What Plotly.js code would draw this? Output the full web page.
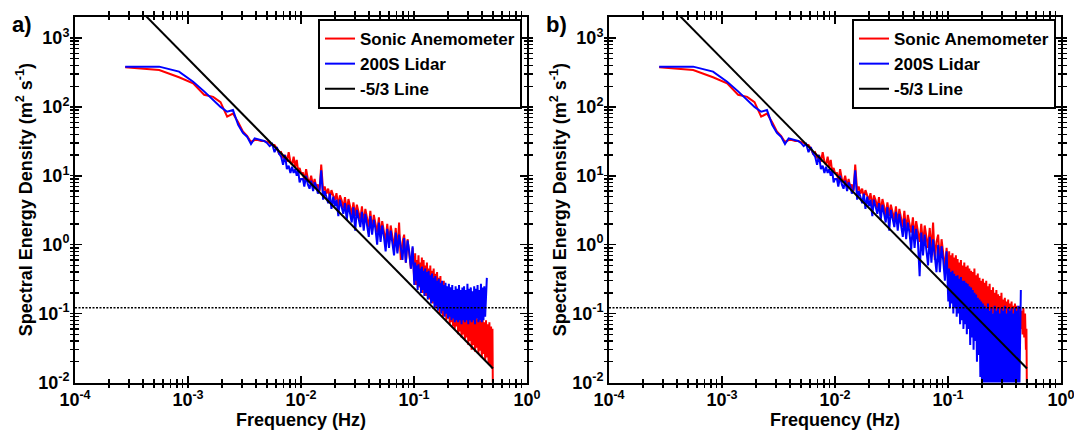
<!DOCTYPE html>
<html><head><meta charset="utf-8">
<script src="https://cdn.plot.ly/plotly-3.0.1.min.js"></script>
<style>html,body{margin:0;padding:0;background:#fff}#chart{width:1074px;height:432px}</style>
</head><body><div id="chart"></div>
<script>
// Frequencies (Hz)
const freq = [
0.000278,0.000556,0.000833,0.00111,0.00139,0.00167,0.00194,0.00222,0.0025,0.00278,
0.00306,0.00333,0.00361,0.00389,0.00417,0.00444,0.00472,0.005,0.00528,0.00556,
0.00583,0.00611,0.00639,0.00667,0.00694,0.00722,0.0075,0.00778,0.00806,0.00833,
0.00861,0.00889,0.00917,0.00944,0.00972,0.01,
0.0104,0.0107,0.0111,0.0115,0.0119,0.0123,0.0128,0.0132,0.0137,0.0141,
0.0146,0.0151,0.0157,0.0162,0.0168,0.0174,0.018,0.0186,0.0193,0.0199,
0.0206,0.0214,0.0221,0.0229,0.0237,0.0245,0.0254,0.0263,0.0272,0.0281,
0.0291,0.0302,0.0312,0.0323,0.0335,0.0346,0.0359,0.0371,0.0384,0.0398,
0.0411,0.0426,0.0441,0.0456,0.0472,0.0489,0.0506,0.0523,0.0542,0.0561,
0.058,0.0601,0.0622,0.0643,0.0666,0.0689,0.0713,0.0738,0.0764,0.0791,
0.0818,0.0847,0.0877,0.0907,0.0939,0.0972,
0.1006,0.1024,0.1041,0.1059,0.1077,0.1096,0.1115,0.1134,0.1154,0.1174,
0.1194,0.1215,0.1236,0.1257,0.1279,0.1301,0.1324,0.1347,0.137,0.1394,
0.1418,0.1443,0.1468,0.1493,0.1519,0.1545,0.1572,0.16,0.1627,0.1656,
0.1684,0.1713,0.1743,0.1773,0.1804,0.1835,0.1867,0.19,0.1933,0.1966,
0.2,0.2035,0.207,0.2106,0.2143,0.218,0.2218,0.2256,0.2295,0.2335,
0.2376,0.2417,0.2459,0.2502,0.2545,0.2589,0.2634,0.268,0.2726,0.2774,
0.2822,0.2871,0.292,0.2971,0.3023,0.3075,0.3128,0.3183,0.3238,0.3294,
0.3351,0.3409,0.3468,0.3529,0.359,0.3652,0.3715,0.378,0.3845,0.3912,
0.398,0.4049,0.4119,0.4191,0.4263,0.4337,0.4413,0.4489,0.4567,0.4647,
0.4727,0.4809,0.4892,0.4946,0.5];

// Panel a) spectra (m^2 s^-1)
const sonicA = [
375,343,269,220,150,140,117,72,80,60,44,38,31,33,33,32,32,31,30,28,
28,25,21,22,18,20,16,22,16,14.5,19,13.5,17,11.5,13,11,
11,8.5,12.5,9,8,10,7,9,6.5,7.5,
6,14.5,6,7,5.5,6.5,4.8,6.2,5.2,4.4,
5.6,3.6,5.2,4.4,3.4,4.9,3.0,4.6,3.6,2.7,
4.1,2.6,3.8,3.0,2.3,3.6,2.0,3.3,2.4,1.8,
3.1,1.6,2.7,2.0,1.5,2.5,1.3,2.2,1.6,1.1,
2.0,1.0,1.9,1.3,0.9,1.75,0.8,2.1,0.6,1.1,
1.4,0.55,1.2,0.75,0.45,0.9,
0.3,0.75,0.26,0.6,0.35,0.7,0.24,0.55,0.28,0.65,
0.2,0.6,0.3,0.5,0.18,0.55,0.22,0.45,0.16,0.5,
0.2,0.42,0.14,0.45,0.17,0.38,0.12,0.4,0.13,0.33,
0.1,0.35,0.12,0.28,0.09,0.3,0.1,0.25,0.08,0.22,
0.085,0.2,0.07,0.22,0.075,0.17,0.065,0.18,0.06,0.15,
0.065,0.14,0.05,0.15,0.055,0.12,0.045,0.13,0.05,0.11,
0.042,0.12,0.045,0.1,0.035,0.11,0.04,0.095,0.03,0.1,
0.035,0.09,0.028,0.095,0.032,0.085,0.026,0.09,0.029,0.08,
0.023,0.085,0.026,0.075,0.021,0.08,0.023,0.07,0.019,0.075,
0.018,0.065,0.016,0.06,0.004];
const lidarA = [
384,384,325,232,168,125,100,85,90,55,42,37,29,35,34,33,32,30,27,29,
22,26,21,19,14.5,20,12.5,14,11,13.5,11,12.5,10,12,8,9,
9,7,10,7.5,6.5,8.5,6,8,7,5.5,
6.5,12,4.5,6,5,4,5.5,3.3,5,3.6,
4.5,2.6,4.5,3.4,2.8,4,2.3,3.8,2.9,2.1,
3.5,1.6,3.2,2.4,1.8,3,1.6,2.8,2.0,1.3,
2.6,1.4,2.3,1.7,1.0,2.1,1.1,1.9,1.3,0.8,
1.7,0.9,1.6,1.1,0.7,1.5,0.75,1.4,0.95,0.6,
1.25,0.55,1.15,0.8,0.45,0.95,
0.26,0.55,0.3,0.5,0.22,0.52,0.25,0.45,0.2,0.48,
0.22,0.42,0.18,0.45,0.2,0.4,0.16,0.42,0.17,0.36,
0.14,0.38,0.15,0.33,0.12,0.35,0.13,0.3,0.11,0.32,
0.12,0.28,0.1,0.3,0.11,0.26,0.09,0.28,0.1,0.25,
0.085,0.27,0.09,0.24,0.08,0.26,0.085,0.22,0.075,0.25,
0.08,0.23,0.075,0.26,0.08,0.22,0.07,0.24,0.08,0.25,
0.075,0.22,0.08,0.27,0.07,0.23,0.08,0.24,0.075,0.21,
0.08,0.25,0.07,0.23,0.085,0.26,0.075,0.22,0.08,0.27,
0.075,0.24,0.08,0.25,0.09,0.28,0.33];

// Panel b) spectra (m^2 s^-1)
const sonicB = [
375,343,269,220,150,140,117,72,80,60,44,38,31,33,33,32,32,31,30,28,
28,25,21,22,18,20,16,22,16,14.5,19,13.5,17,11.5,13,11,
11,8.5,12.5,9,8,10,7,9,6.5,7.5,
6,14.5,6,7,5.5,6.5,4.8,6.2,5.2,4.4,
5.6,3.6,5.2,4.4,3.4,4.9,3.0,4.6,3.6,2.7,
4.1,2.6,3.8,3.0,2.3,3.6,2.0,3.3,2.4,1.8,
3.1,1.6,2.7,2.0,1.5,2.5,1.3,2.2,1.6,1.1,
2.0,1.0,1.9,1.3,0.9,1.75,0.8,2.1,0.6,1.1,
1.4,0.55,1.2,0.75,0.45,0.9,
0.35,0.8,0.3,0.7,0.4,0.75,0.28,0.65,0.33,0.7,
0.25,0.62,0.3,0.55,0.22,0.6,0.26,0.5,0.2,0.55,
0.22,0.48,0.18,0.5,0.2,0.45,0.16,0.42,0.18,0.4,
0.15,0.45,0.16,0.36,0.13,0.38,0.14,0.33,0.12,0.3,
0.13,0.32,0.11,0.28,0.12,0.3,0.1,0.25,0.11,0.27,
0.095,0.22,0.1,0.24,0.09,0.2,0.095,0.22,0.085,0.19,
0.09,0.18,0.08,0.2,0.085,0.16,0.075,0.17,0.08,0.15,
0.07,0.16,0.075,0.14,0.065,0.15,0.07,0.13,0.065,0.14,
0.06,0.13,0.065,0.12,0.055,0.13,0.06,0.11,0.05,0.12,
0.045,0.1,0.03,0.06,0.004];
const lidarB = [
384,384,325,232,168,125,100,85,90,55,42,37,29,35,34,33,32,30,27,29,
22,26,21,19,14.5,20,12.5,14,11,13.5,11,12.5,10,12,8,9,
9,7,10,7.5,6.5,8.5,6,8,7,5.5,
6.5,12,4.5,6,5,4,5.5,3.3,5,3.6,
4.5,2.6,4.5,3.4,2.8,4,2.3,3.8,2.9,2.1,
3.5,1.6,3.2,2.4,1.8,3,1.6,2.8,2.0,1.3,
2.4,1.2,2.1,1.5,0.85,1.9,0.9,1.7,1.1,0.35,
1.5,0.7,1.4,0.9,0.5,1.3,0.55,1.2,0.7,0.4,
1.0,0.4,0.95,0.6,0.3,0.8,
0.15,0.45,0.12,0.4,0.14,0.42,0.1,0.38,0.12,0.35,
0.09,0.36,0.1,0.32,0.07,0.34,0.08,0.3,0.06,0.3,
0.07,0.28,0.05,0.27,0.06,0.25,0.035,0.24,0.045,0.22,
0.03,0.2,0.04,0.19,0.02,0.17,0.025,0.16,0.012,0.15,
0.008,0.14,0.006,0.13,0.005,0.12,0.004,0.14,0.005,0.11,
0.004,0.12,0.005,0.1,0.004,0.13,0.005,0.11,0.004,0.12,
0.005,0.1,0.004,0.12,0.005,0.11,0.004,0.13,0.005,0.1,
0.004,0.12,0.005,0.11,0.004,0.12,0.005,0.1,0.004,0.12,
0.005,0.11,0.004,0.13,0.005,0.12,0.22];

// -5/3 reference line and noise floor
const slopeX = [0.0004, 0.5];
const slopeY = [2300, 0.016];
const floorX = [0.0001, 1];
const floorY = [0.122, 0.122];

const seriesNames = ['Sonic Anemometer', '200S Lidar', '-5/3 Line'];
const panelLabels = ['a)', 'b)'];
const xDecades = [-4, -3, -2, -1, 0];
const yDecades = [-2, -1, 0, 1, 2, 3];
const xTitle = 'Frequency (Hz)';
const yTitle = 'Spectral Energy Density (m<sup>2</sup> s<sup>-1</sup>)';

// tick positions: decades (labelled) and 2..9 subdivisions (unlabelled)
function tickSet(decades) {
  const vals = [], text = [];
  decades.forEach(function (e, i) {
    vals.push(Math.pow(10, e)); text.push('10<sup>' + e + '</sup>');
    if (i < decades.length - 1) {
      for (let m = 2; m < 10; m++) { vals.push(m * Math.pow(10, e)); text.push(''); }
    }
  });
  return {vals: vals, text: text};
}
const xTicks = tickSet(xDecades);
const yTicks = tickSet(yDecades);
const xMajor = xDecades.map(function (e) { return Math.pow(10, e); });
const yMajor = yDecades.map(function (e) { return Math.pow(10, e); });

const FAM = '"Liberation Sans", Arial, sans-serif';
const FONT = {family: FAM, size: 18, color: '#000', weight: 'bold'};
const XR = [-4, 0], YR = [-2, 3.309];

function xAxis(domain, anchor) {
  return {type: 'log', range: XR, domain: domain, anchor: anchor,
    tickmode: 'array', tickvals: xTicks.vals, ticktext: xTicks.text,
    ticks: 'inside', ticklen: 3.5, tickwidth: 1.3, tickcolor: '#000',
    showline: true, linewidth: 2, linecolor: '#000', mirror: 'allticks',
    showgrid: false, zeroline: false, tickfont: FONT, automargin: false,
    ticklabeloverflow: 'allow',
    title: {text: xTitle, font: FONT, standoff: 0}};
}
function yAxis(domain, anchor) {
  return {type: 'log', range: YR, domain: domain, anchor: anchor,
    tickmode: 'array', tickvals: yTicks.vals, ticktext: yTicks.text,
    ticks: 'inside', ticklen: 3.5, tickwidth: 1.3, tickcolor: '#000',
    showline: true, linewidth: 2, linecolor: '#000', mirror: 'allticks',
    showgrid: false, zeroline: false, tickfont: FONT, automargin: false,
    ticklabeloverflow: 'allow',
    title: {text: yTitle, font: FONT, standoff: 1}};
}
function majorXAxis(over, anchor) {
  return {type: 'log', range: XR, overlaying: over, anchor: anchor, side: 'bottom',
    tickmode: 'array', tickvals: xMajor, showticklabels: false,
    ticks: 'inside', ticklen: 7, tickwidth: 1.5, tickcolor: '#000', mirror: 'allticks',
    showline: false, showgrid: false, zeroline: false, automargin: false};
}
function majorYAxis(over, anchor) {
  return {type: 'log', range: YR, overlaying: over, anchor: anchor, side: 'left',
    tickmode: 'array', tickvals: yMajor, showticklabels: false,
    ticks: 'inside', ticklen: 7, tickwidth: 1.5, tickcolor: '#000', mirror: 'allticks',
    showline: false, showgrid: false, zeroline: false, automargin: false};
}

function panelTraces(sonic, lidar, xa, ya, lg) {
  return [
    {x: freq, y: sonic, xaxis: xa, yaxis: ya, legend: lg, name: seriesNames[0], type: 'scatter', mode: 'lines', line: {color: '#ff0000', width: 2}},
    {x: freq, y: lidar, xaxis: xa, yaxis: ya, legend: lg, name: seriesNames[1], type: 'scatter', mode: 'lines', line: {color: '#0000ff', width: 2}},
    {x: slopeX, y: slopeY, xaxis: xa, yaxis: ya, legend: lg, name: seriesNames[2], type: 'scatter', mode: 'lines', line: {color: '#000', width: 2}},
    {x: floorX, y: floorY, xaxis: xa, yaxis: ya, showlegend: false, type: 'scatter', mode: 'lines', line: {color: '#000', width: 1.5, dash: '2px,1.5px'}}
  ];
}
function tickHolder(xa, ya) {
  return {x: [], y: [], xaxis: xa, yaxis: ya, type: 'scatter', mode: 'lines', showlegend: false, hoverinfo: 'skip'};
}

const data = panelTraces(sonicA, lidarA, 'x', 'y', 'legend')
  .concat(panelTraces(sonicB, lidarB, 'x2', 'y2', 'legend2'))
  .concat([tickHolder('x3', 'y'), tickHolder('x', 'y3'), tickHolder('x4', 'y2'), tickHolder('x2', 'y4')]);

const W = 1074, H = 432;
const yDom = [1 - 382.5 / H, 1 - 16.7 / H];
const legendBase = {yanchor: 'top', y: 1 - 19 / H, xanchor: 'right', bgcolor: '#fff', bordercolor: '#000', borderwidth: 2,
  font: {family: FAM, size: 17, color: '#000', weight: 'bold'}, tracegroupgap: 0, itemwidth: 30};

const layout = {
  width: W, height: H, margin: {l: 0, r: 0, t: 0, b: 0},
  paper_bgcolor: '#fff', plot_bgcolor: '#fff',
  xaxis: xAxis([75 / W, 527 / W], 'y'),
  yaxis: yAxis(yDom, 'x'),
  xaxis2: xAxis([609 / W, 1061 / W], 'y2'),
  yaxis2: yAxis(yDom, 'x2'),
  xaxis3: majorXAxis('x', 'y'),
  yaxis3: majorYAxis('y', 'x'),
  xaxis4: majorXAxis('x2', 'y2'),
  yaxis4: majorYAxis('y2', 'x2'),
  legend: Object.assign({}, legendBase, {x: 522 / W}),
  legend2: Object.assign({}, legendBase, {x: 1056 / W}),
  annotations: [
    {text: panelLabels[0], xref: 'paper', yref: 'paper', x: 22 / W, y: 1 - 25 / H, showarrow: false, xanchor: 'center', yanchor: 'middle', font: {family: FAM, size: 22, color: '#000', weight: 'bold'}},
    {text: panelLabels[1], xref: 'paper', yref: 'paper', x: 556 / W, y: 1 - 25 / H, showarrow: false, xanchor: 'center', yanchor: 'middle', font: {family: FAM, size: 22, color: '#000', weight: 'bold'}}
  ],
  showlegend: true
};

Plotly.newPlot('chart', data, layout, {displayModeBar: false, staticPlot: true});
</script>
</body></html>
